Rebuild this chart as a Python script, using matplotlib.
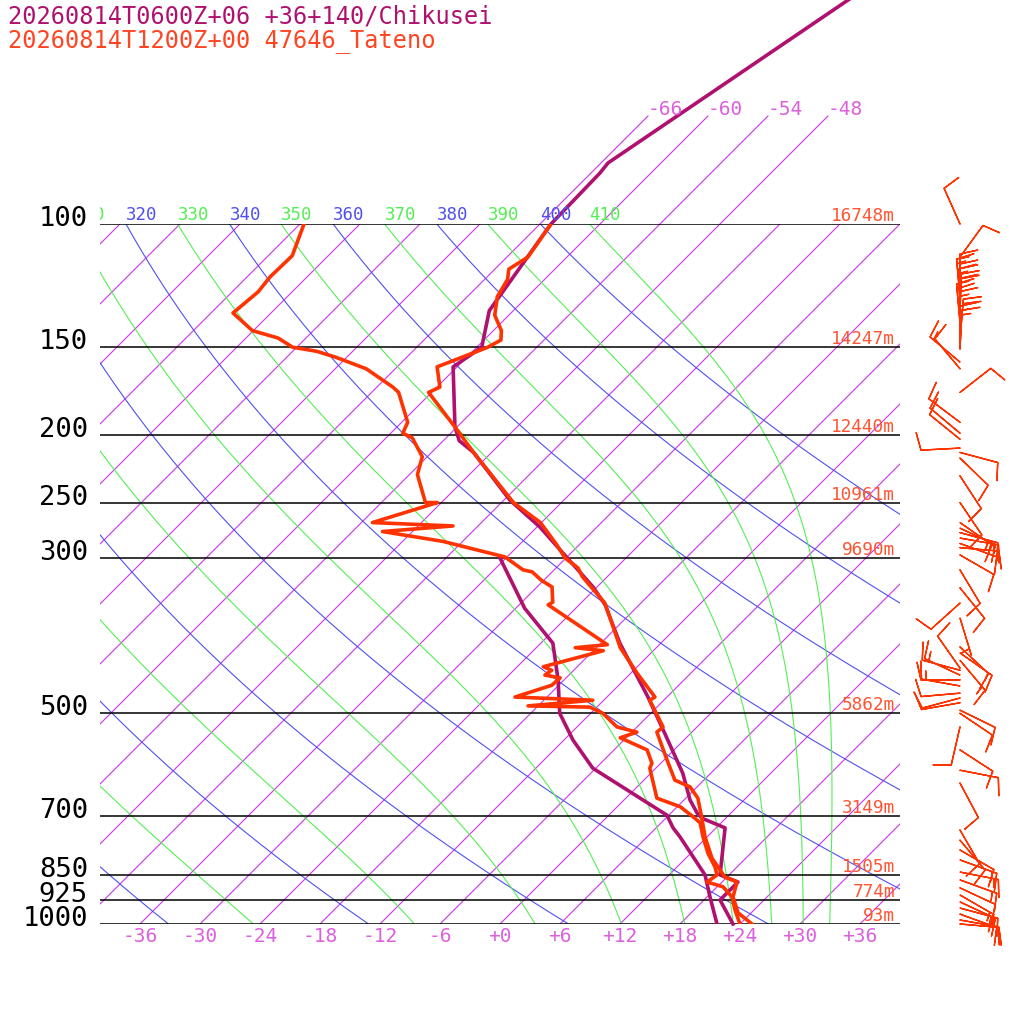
import numpy as np
import matplotlib
matplotlib.use("Agg")
import matplotlib.pyplot as plt
from matplotlib.transforms import Bbox, TransformedBbox

plt.rcParams['font.family'] = ['DejaVu Sans Mono']

# Tateno 47646, 12Z observation: temperature
tat_p = [100, 111.5, 116, 120, 127, 135, 142, 146.5, 150, 160, 171, 174, 195, 212,
         250, 267, 287.5, 300, 310, 319, 348, 403, 438, 474, 479, 523, 532, 583,
         623, 637, 661, 706, 751, 805, 857, 871, 915, 964, 1000]
tat_t = [-64.9, -63.9, -64.6, -63.7, -63.0, -61.4, -59.2, -58.3, -58.9, -62.0, -59.7,
         -60.3, -54.2, -49.8, -40.8, -36.1, -32.2, -30.1, -27.8, -26.5, -21.6, -15.6,
         -11.4, -7.2, -7.4, -3.4, -3.5, 0.3, 3.1, 5.3, 7.2, 9.6, 11.8, 14.6, 17.8,
         19.5, 20.6, 22.7, 25.2]
# Tateno dewpoint
tat_dp = [100, 111, 119, 125, 134, 142, 145.5, 150, 152, 155, 161, 171, 174, 192, 199,
          202, 215, 228, 250, 250, 267, 270, 275, 284, 299, 312, 314, 323, 330, 347,
          350, 399, 403, 407, 429, 434, 441, 445, 456, 474, 479, 488, 490, 500, 523,
          532, 542, 564, 589, 599, 661, 680, 706, 717, 751, 792, 829, 851, 871, 885,
          915, 955, 1000]
tat_td = [-89.6, -87.6, -87.7, -87.4, -87.8, -84.1, -80.8, -78.4, -75.6, -73.1, -68.9,
          -64.4, -63.3, -59.4, -58.8, -57.4, -54.5, -53.2, -49.6, -48.4, -52.9, -44.5,
          -51.0, -44.0, -36.2, -33.1, -32.0, -30.2, -28.5, -26.9, -27.1, -17.2, -20.1,
          -17.0, -21.4, -20.2, -20.4, -18.6, -18.7, -21.2, -13.1, -19.0, -12.7, -10.8,
          -8.0, -5.5, -6.6, -2.7, -0.9, -0.6, 3.1, 6.3, 8.9, 9.9, 11.6, 13.7, 15.8,
          16.8, 16.5, 18.6, 20.5, 22.1, 24.0]

# Chikusei (+36+140), 06Z+06 forecast: temperature
chk_p = [45, 81.8, 84.6, 100, 133, 150, 160, 195, 204, 212, 248, 271, 330, 350, 397,
         474, 534, 609, 665, 694, 706, 729, 851, 871, 924, 1000]
chk_t = [-56.7, -65.3, -65.1, -64.9, -62.4, -59.5, -60.4, -54.2, -52.4, -49.8, -41.4,
         -35.7, -24.4, -21.4, -16.1, -7.9, -2.6, 3.2, 6.6, 8.6, 9.6, 12.9, 17.1, 19.6,
         19.6, 23.3]
# Chikusei dewpoint
chk_dp = [300, 354, 397, 448, 500, 546, 599, 699, 729, 751, 851, 915, 1000]
chk_td = [-36.6, -29.1, -22.8, -18.6, -15.1, -11.1, -6.3, 5.8, 7.7, 9.3, 15.6, 18.3, 21.7]

# Tateno winds: pressure, direction (deg, from), speed (kt)
wind_p = [100, 111.5, 125.5, 127.6, 129.7, 131.8, 134, 136, 138.5, 142, 145.5, 149, 151,
          157.5, 161, 174, 192, 199, 203, 209, 212, 216, 229, 250, 267, 272, 276, 281,
          286, 290, 297, 312, 331, 348, 365.5, 402, 410, 420, 431, 434, 441, 448, 457,
          468, 475.5, 483, 495, 500, 523, 564, 603, 629, 734, 759, 784, 810, 843, 865,
          888, 909, 930, 949, 968, 987, 1000]
wind_dir = [336, 36, 0, 355, 0, 358, 2, 0, 355, 0, 5, 0, 3,
            310, 320, 52, 307, 310, 309, 267, 105, 134, 147, 146, 125, 115, 105, 100,
            110, 95, 120, 149, 141, 228, 163, 133, 125, 140, 325, 285, 295, 270, 280,
            265, 255, 260, 116, 124, 193, 123, 101, 152, 150, 140, 120, 110, 101, 110,
            115, 120, 115, 105, 110, 100, 95]
wind_spd = [10, 10, 15, 15, 20, 15, 20, 15, 20, 15, 20, 15, 15,
            15, 10, 10, 10, 10, 10, 10, 10, 10, 10, 10, 15, 15, 10, 15,
            10, 10, 10, 10, 10, 10, 5, 10, 15, 15, 10, 10, 15, 10, 15,
            10, 10, 10, 10, 10, 10, 10, 10, 10, 10, 10, 10, 15, 15, 15,
            10, 15, 15, 15, 10, 10, 10]

isobars = [100, 150, 200, 250, 300, 500, 700, 850, 925, 1000]
heights = ['16748m', '14247m', '12440m', '10961m', '9690m', '5862m', '3149m',
           '1505m', '774m', '93m']
temp_ticks = [-36, -30, -24, -18, -12, -6, 0, 6, 12, 18, 24, 30, 36]
iso_top_labels = [-66, -60, -54, -48]
dry_thetas = list(range(240, 401, 20))
moist_thetas = list(range(250, 411, 20))

SKEW = 30.4
KAPPA = 0.2857
P_TOP_ISO = 70.1

c_iso = '#cf3fea'
c_iso_txt = '#dd5fdd'
c_dry = '#5050f0'
c_moist = '#55ee55'
c_chk = '#b0106e'
c_tat = '#ff3300'
c_hgt = '#ff5533'


def skx(t, p):
    return np.asarray(t, float) + SKEW * np.log(1000.0 / np.asarray(p, float))


def dtdp(T, p):
    es = 6.112 * np.exp(17.67 * (T - 273.15) / (T - 29.65))
    rs = 0.622 * es / (p - es)
    num = (287.04 * T + 2.501e6 * rs) / p
    den = 1005.7 + 2.501e6 ** 2 * rs * 0.622 / (287.04 * T * T)
    return num / den


def moist_adiabat(theta, pp):
    T = theta * (pp[0] / 1000.0) ** KAPPA
    out = [T]
    for i in range(1, len(pp)):
        h = pp[i] - pp[i - 1]
        p0 = pp[i - 1]
        k1 = dtdp(T, p0)
        k2 = dtdp(T + h * k1 / 2, p0 + h / 2)
        k3 = dtdp(T + h * k2 / 2, p0 + h / 2)
        k4 = dtdp(T + h * k3, p0 + h)
        T = T + h * (k1 + 2 * k2 + 2 * k3 + k4) / 6
        out.append(T)
    return np.array(out) - 273.15


fig = plt.figure(figsize=(10.24, 10.24), dpi=100)
ax = fig.add_axes([100 / 1024, 100 / 1024, 800 / 1024, 700 / 1024])
ax.set_yscale('log')
ax.set_xlim(-40, 40)
ax.set_ylim(1000, 100)
ax.axis('off')

pp = np.linspace(60, 1050, 600)

# isotherms
for t in range(-108, 41, 6):
    ax.plot(skx([t, t], [1050, 100]), [1050, 100], color=c_iso, lw=0.85)
for t in iso_top_labels:
    ax.plot(skx([t, t], [100, P_TOP_ISO]), [100, P_TOP_ISO], color=c_iso, lw=0.85,
            clip_on=False)
    ax.annotate(str(t), xy=(skx(t, P_TOP_ISO), P_TOP_ISO), xytext=(0, 1),
                textcoords='offset pixels', ha='left', va='baseline',
                color=c_iso_txt, fontsize=14, annotation_clip=False)

clip_left = TransformedBbox(Bbox.from_bounds(100 / 1024, 0, 924 / 1024, 1),
                            fig.transFigure)

# dry adiabats
for th in dry_thetas:
    tt = th * (pp / 1000.0) ** KAPPA - 273.15
    ax.plot(skx(tt, pp), pp, color=c_dry, lw=0.8)
    x100 = skx(th * 0.1 ** KAPPA - 273.15, 100)
    if -43 < x100 < 40:
        txt = ax.annotate(str(th), xy=(x100, 100), xytext=(0, 4),
                          textcoords='offset pixels', ha='left', va='baseline',
                          color=c_dry, fontsize=12.5, annotation_clip=False)
        txt.set_clip_box(clip_left)
        txt.set_clip_on(True)

# saturated adiabats
for th in moist_thetas:
    tt = moist_adiabat(th, pp)
    ax.plot(skx(tt, pp), pp, color=c_moist, lw=0.8)
    x100 = skx(np.interp(100, pp, tt), 100)
    if -45 < x100 < 40:
        txt = ax.annotate(str(th), xy=(x100, 100), xytext=(0, 4),
                          textcoords='offset pixels', ha='left', va='baseline',
                          color=c_moist, fontsize=12.5, annotation_clip=False)
        txt.set_clip_box(clip_left)
        txt.set_clip_on(True)

# isobars with labels
for p, h in zip(isobars, heights):
    ax.plot([-40, 40], [p, p], color='black', lw=1.1)
    ax.annotate(str(p), xy=(88, p), xycoords=('figure pixels', 'data'),
                xytext=(0, -2), textcoords='offset pixels', ha='right',
                va='baseline', fontsize=19.5, color='black', annotation_clip=False)
    ax.annotate(h, xy=(39.5, p), xytext=(0, 3), textcoords='offset pixels',
                ha='right', va='baseline', fontsize=12.8, color=c_hgt,
                annotation_clip=False)

# temperature ticks along the bottom
for t in temp_ticks:
    ax.annotate(f'{t:+d}', xy=(t, 87), xycoords=('data', 'figure pixels'),
                ha='center', va='center', fontsize=14, color=c_iso_txt,
                annotation_clip=False)

# soundings
ax.plot(skx(chk_t, chk_p), chk_p, color=c_chk, lw=2.6, clip_on=False,
        solid_joinstyle='round')
ax.plot(skx(chk_td, chk_dp), chk_dp, color=c_chk, lw=2.6, solid_joinstyle='round')
ax.plot(skx(tat_t, tat_p), tat_p, color=c_tat, lw=2.6, solid_joinstyle='round')
ax.plot(skx(tat_td, tat_dp), tat_dp, color=c_tat, lw=2.6, solid_joinstyle='round')

# wind barbs for Tateno
wd = np.radians(wind_dir)
ws = np.asarray(wind_spd, float)
u = -ws * np.sin(wd)
v = -ws * np.cos(wd)
ax.barbs(np.full(len(wind_p), 46.0), wind_p, u, v, length=7.5, pivot='tip',
         color=c_tat, linewidth=1.0, clip_on=False,
         sizes=dict(spacing=0.12, height=0.45, width=0.2))

fig.text(8 / 1024, 1 - 24 / 1024, '20260814T0600Z+06 +36+140/Chikusei',
         color=c_chk, fontsize=17, ha='left', va='baseline')
fig.text(8 / 1024, 1 - 47 / 1024, '20260814T1200Z+00 47646_Tateno',
         color='#ff4422', fontsize=17, ha='left', va='baseline')

fig.savefig('out.png', dpi=100, facecolor='white')
